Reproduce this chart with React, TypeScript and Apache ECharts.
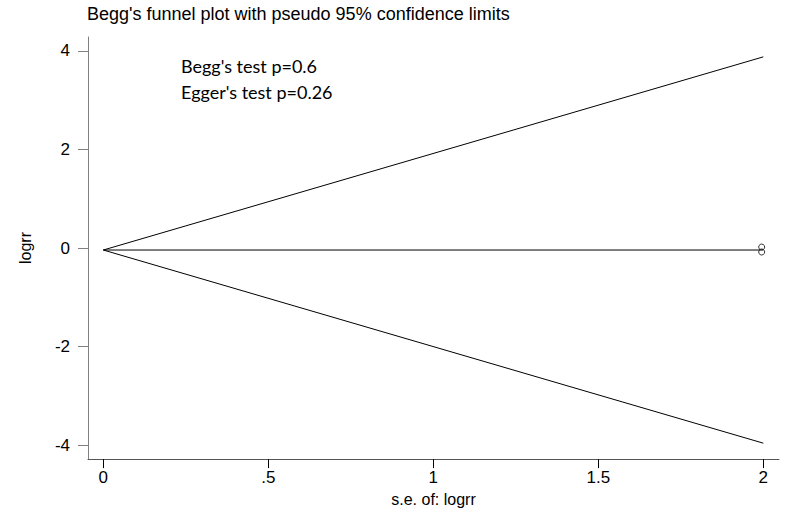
import React, { useEffect, useRef } from "react";
import * as echarts from "echarts";

const titleText = "Begg's funnel plot with pseudo 95% confidence limits";
const annotations = ["Begg's test p=0.6", "Egger's test p=0.26"];
const xTicks = [0, 0.5, 1, 1.5, 2];
const yTicks = [-4, -2, 0, 2, 4];
const studySE = [1.995, 1.995];
const studyLogRR = [0.02, -0.08];
const pooledLogRR = -0.04;
const funnelSE = [0, 2];
const upperLimit = [-0.04, 3.88];
const lowerLimit = [-0.04, -3.96];

function fmtX(v: number): string {
  if (v === 0) return "0";
  const s = String(v);
  return s.startsWith("0.") ? s.slice(1) : s;
}

export default function App() {
  const ref = useRef<HTMLDivElement>(null);
  useEffect(() => {
    if (!ref.current) return;
    const chart = echarts.init(ref.current, undefined, { renderer: "svg" });
    const labelFont = { fontFamily: "Liberation Sans, Arial, sans-serif", fontSize: 17, color: "#000" };
    const nameFont = { fontFamily: "Liberation Sans, Arial, sans-serif", fontSize: 16, color: "#000" };
    chart.setOption({
      animation: false,
      backgroundColor: "#fff",
      title: {
        text: titleText,
        left: 82,
        top: 0,
        textStyle: { fontFamily: "Liberation Sans, Arial, sans-serif", fontSize: 18, fontWeight: "normal", color: "#000" },
      },
      grid: { left: 88, right: 7, top: 37, bottom: 51, containLabel: false },
      xAxis: {
        type: "value",
        min: -0.0464,
        max: 2.0475,
        name: "s.e. of: logrr",
        nameLocation: "middle",
        nameGap: 27,
        nameTextStyle: nameFont,
        splitLine: { show: false },
        axisLine: { show: true, onZero: false, lineStyle: { color: "#555", width: 1 } },
        axisTick: { show: true, customValues: xTicks, length: 9, lineStyle: { color: "#000" } },
        axisLabel: { customValues: xTicks, formatter: (v: number) => fmtX(v), margin: 10, ...labelFont },
      },
      yAxis: {
        type: "value",
        min: -4.283,
        max: 4.283,
        name: "logrr",
        nameLocation: "middle",
        nameGap: 55,
        nameRotate: 90,
        nameTextStyle: nameFont,
        splitLine: { show: false },
        axisLine: { show: true, onZero: false, lineStyle: { color: "#808080", width: 1 } },
        axisTick: { show: true, customValues: yTicks, length: 10, lineStyle: { color: "#808080" } },
        axisLabel: { customValues: yTicks, margin: 18, ...labelFont },
      },
      graphic: [
        {
          type: "text",
          left: 181,
          top: 53,
          style: {
            text: annotations.join("\n"),
            font: "18px Lato, 'Open Sans', sans-serif",
            lineHeight: 26,
            fill: "#000",
          },
        },
      ],
      series: [
        {
          type: "line",
          data: funnelSE.map((x, i) => [x, upperLimit[i]]),
          symbol: "none",
          lineStyle: { color: "#000", width: 1 },
        },
        {
          type: "line",
          data: funnelSE.map((x, i) => [x, lowerLimit[i]]),
          symbol: "none",
          lineStyle: { color: "#000", width: 1 },
        },
        {
          type: "line",
          data: funnelSE.map((x) => [x, pooledLogRR]),
          symbol: "none",
          lineStyle: { color: "#000", width: 1 },
        },
        {
          type: "scatter",
          data: studySE.map((x, i) => [x, studyLogRR[i]]),
          symbol: "circle",
          symbolSize: 6,
          itemStyle: { color: "#fff", borderColor: "#000", borderWidth: 1 },
        },
      ],
    });
    return () => chart.dispose();
  }, []);
  return <div ref={ref} style={{ width: 786, height: 512, position: "absolute", left: 0, top: 0 }} />;
}
